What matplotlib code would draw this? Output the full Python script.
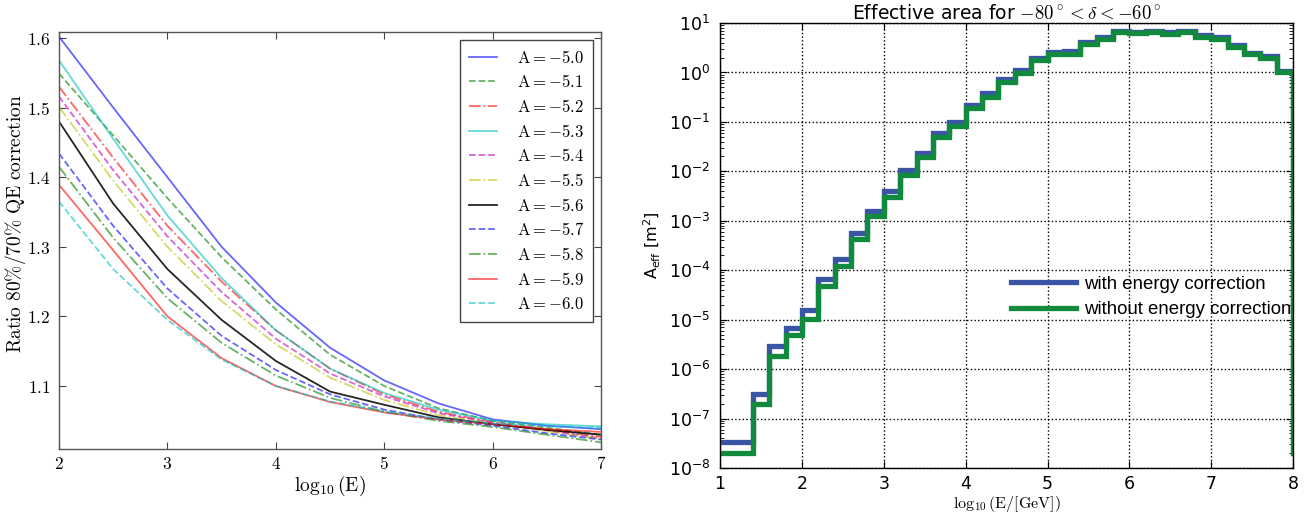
import numpy as np
import matplotlib
matplotlib.use("Agg")
import matplotlib.pyplot as plt
from matplotlib.font_manager import FontProperties
from matplotlib.ticker import LogLocator, NullFormatter

# ---------------- Left panel data ----------------
x_loge = [2.0, 2.5, 3.0, 3.5, 4.0, 4.5, 5.0, 5.5, 6.0, 6.5, 7.0]
A_labels = ["-5.0", "-5.1", "-5.2", "-5.3", "-5.4", "-5.5",
            "-5.6", "-5.7", "-5.8", "-5.9", "-6.0"]
ratio_m50 = [1.602, 1.500, 1.400, 1.300, 1.220, 1.155, 1.108, 1.075, 1.052, 1.043, 1.038]
ratio_m51 = [1.549, 1.460, 1.370, 1.285, 1.210, 1.145, 1.100, 1.068, 1.050, 1.040, 1.030]
ratio_m52 = [1.530, 1.428, 1.330, 1.250, 1.180, 1.125, 1.088, 1.063, 1.048, 1.037, 1.027]
ratio_m53 = [1.568, 1.455, 1.345, 1.255, 1.180, 1.125, 1.090, 1.066, 1.050, 1.045, 1.042]
ratio_m54 = [1.516, 1.410, 1.315, 1.235, 1.168, 1.118, 1.085, 1.061, 1.047, 1.036, 1.025]
ratio_m55 = [1.501, 1.395, 1.300, 1.222, 1.160, 1.112, 1.080, 1.058, 1.046, 1.035, 1.024]
ratio_m56 = [1.480, 1.362, 1.268, 1.195, 1.136, 1.092, 1.073, 1.055, 1.045, 1.037, 1.030]
ratio_m57 = [1.434, 1.330, 1.240, 1.172, 1.123, 1.088, 1.066, 1.052, 1.043, 1.032, 1.023]
ratio_m58 = [1.415, 1.313, 1.226, 1.162, 1.115, 1.083, 1.063, 1.050, 1.041, 1.030, 1.019]
ratio_m59 = [1.389, 1.295, 1.200, 1.140, 1.100, 1.077, 1.062, 1.052, 1.045, 1.038, 1.034]
ratio_m60 = [1.365, 1.268, 1.195, 1.138, 1.100, 1.078, 1.063, 1.053, 1.046, 1.042, 1.040]
ratios = [ratio_m50, ratio_m51, ratio_m52, ratio_m53, ratio_m54, ratio_m55,
          ratio_m56, ratio_m57, ratio_m58, ratio_m59, ratio_m60]
left_xticks = [2, 3, 4, 5, 6, 7]
left_yticks = [1.1, 1.2, 1.3, 1.4, 1.5, 1.6]

# ---------------- Right panel data ----------------
bin_edges = [1.0, 1.2, 1.4, 1.6, 1.8, 2.0, 2.2, 2.4, 2.6, 2.8, 3.0, 3.2, 3.4, 3.6,
             3.8, 4.0, 4.2, 4.4, 4.6, 4.8, 5.0, 5.2, 5.4, 5.6, 5.8, 6.0, 6.2, 6.4,
             6.6, 6.8, 7.0, 7.2, 7.4, 7.6, 7.8, 8.0]
aeff_with = [3.3e-8, 3.3e-8, 3.2e-7, 2.9e-6, 6.8e-6, 1.6e-5, 6.6e-5, 1.65e-4,
             5.7e-4, 1.6e-3, 4.0e-3, 1.05e-2, 2.4e-2, 6.0e-2, 9.8e-2, 0.22, 0.38,
             0.74, 1.12, 2.0, 2.6, 2.75, 4.2, 5.3, 7.0, 6.6, 6.9, 6.6, 6.8, 5.7,
             5.3, 3.6, 2.5, 2.15, 1.08]
aeff_without = [2.0e-8, 2.0e-8, 2.0e-7, 1.8e-6, 4.8e-6, 1.05e-5, 4.8e-5, 1.22e-4,
                4.2e-4, 1.23e-3, 3.0e-3, 8.3e-3, 1.95e-2, 4.9e-2, 8.2e-2, 0.19, 0.32,
                0.65, 0.99, 1.78, 2.35, 2.4, 3.76, 4.7, 6.5, 6.2, 6.5, 6.0, 6.7, 5.3,
                4.8, 3.3, 2.33, 2.0, 1.03]
right_xticks = [1, 2, 3, 4, 5, 6, 7, 8]

# ---------------- Figure ----------------
plt.rcParams['font.family'] = ['DejaVu Sans']
fig = plt.figure(figsize=(13.08, 5.15), dpi=100)

# Left panel
ax1 = fig.add_axes([0.0451, 0.1282, 0.4144, 0.8097])
colors = ['#0000ff', '#008000', '#ff0000', '#00bfbf', '#bf00bf', '#bfbf00', '#000000',
          '#0000ff', '#008000', '#ff0000', '#00bfbf']
styles = ['-', '--', '-.', '-', '--', '-.', '-', '--', '-.', '-', '--']
for lab, vals, c, ls in zip(A_labels, ratios, colors, styles):
    alpha = 0.85 if c == '#000000' else 0.6
    ax1.plot(x_loge, vals, color=c, ls=ls, lw=1.3, alpha=alpha,
             label=r'$\mathrm{A}=' + lab + '$')
ax1.set_xlim(2, 7)
ax1.set_ylim(1.0095, 1.6086)
ax1.set_xticks(left_xticks, labels=[f'${v}$' for v in left_xticks],
               math_fontfamily='cm', fontsize=12.5)
ax1.set_yticks(left_yticks, labels=[f'${v:.1f}$' for v in left_yticks],
               math_fontfamily='cm', fontsize=12.5)
ax1.tick_params(direction='in', top=True, right=True, length=5, width=0.8,
                color='#444444')
ax1.tick_params(axis='x', pad=4)
ax1.tick_params(axis='y', pad=6)
for s in ax1.spines.values():
    s.set_color('#555555')
    s.set_linewidth(1.0)
ax1.set_xlabel(r'$\log_{10}(\mathrm{E})$', math_fontfamily='cm', fontsize=14,
               labelpad=1)
ax1.set_ylabel(r'$\mathrm{Ratio\ 80\%/70\%\ QE\ correction}$', math_fontfamily='cm',
               fontsize=14, labelpad=1)
ax1.yaxis.set_label_coords(-0.058, 0.54)
leg1 = ax1.legend(loc='upper right', prop=FontProperties(size=12, math_fontfamily='cm'),
                  handlelength=1.7, fancybox=False, framealpha=1.0,
                  edgecolor='#444444', borderaxespad=0.5, labelspacing=0.4,
                  handletextpad=1.2, borderpad=0.5)
leg1.get_frame().set_linewidth(1.0)

# Right panel
ax2 = fig.add_axes([0.5505, 0.0913, 0.4381, 0.864])
blue = '#3a55a6'
green = '#118a3e'
ax2.step(bin_edges, np.append(aeff_with, aeff_with[0]), where='post', color=blue,
         lw=3.8, label='with energy correction', solid_joinstyle='miter')
ax2.step(bin_edges, np.append(aeff_without, aeff_without[0]), where='post', color=green,
         lw=3.8, label='without energy correction', solid_joinstyle='miter')
ax2.set_yscale('log')
ax2.set_xlim(1, 8)
ax2.set_ylim(1e-8, 1e1)
ax2.set_xticks(right_xticks)
ax2.yaxis.set_major_locator(LogLocator(base=10, numticks=20))
ax2.yaxis.set_minor_locator(LogLocator(base=10, subs=np.arange(2, 10), numticks=100))
ax2.yaxis.set_minor_formatter(NullFormatter())
ax2.tick_params(which='major', direction='in', top=True, right=True, length=5,
                width=0.8, labelsize=12.5)
ax2.tick_params(axis='x', which='major', pad=5)
ax2.tick_params(axis='y', which='major', pad=7)
ax2.tick_params(which='minor', direction='in', left=True, right=True, length=3, width=0.6)
ax2.grid(True, which='major', color='black', ls=':', lw=1.0)
for s in ax2.spines.values():
    s.set_linewidth(1.0)
ax2.set_title(r'Effective area for $-80^\circ<\delta<-60^\circ$', math_fontfamily='cm',
              fontsize=13.5, pad=3)
ax2.set_xlabel(r'$\log_{10}(\mathrm{E}/[\mathrm{GeV}])$', math_fontfamily='cm',
               fontsize=11.5, labelpad=1)
ax2.set_ylabel(r'A$_{\rm eff}$ [m$^2$]', fontsize=11.5, labelpad=4)
leg2 = ax2.legend(loc='center left', bbox_to_anchor=(0.492, 0.384), frameon=False,
                  prop=FontProperties(family='Liberation Sans', size=13.4),
                  handlelength=3.5, handletextpad=0.4, labelspacing=0.45, borderpad=0)

fig.savefig('out.png', dpi=100)
